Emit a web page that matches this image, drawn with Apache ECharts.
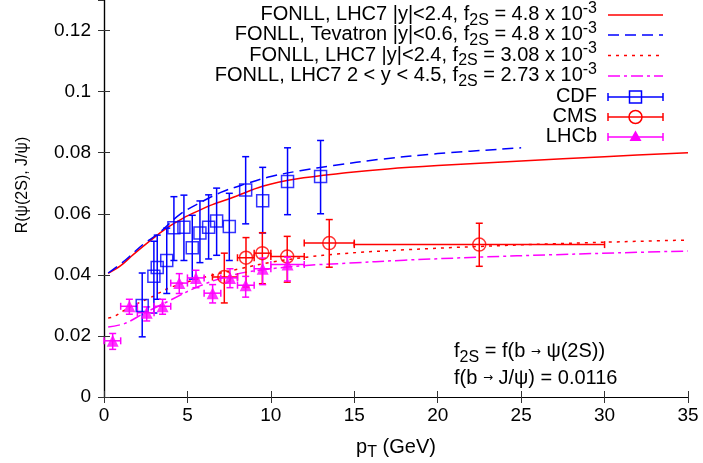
<!DOCTYPE html>
<html><head><meta charset="utf-8">
<script src="https://cdn.jsdelivr.net/npm/echarts@6/dist/echarts.min.js"></script>
<style>html,body{margin:0;padding:0;background:#fff}#c{width:703px;height:463px}</style>
</head><body><div id="c"></div>
<script>
// ---------- data ----------
const xTicks = [0, 5, 10, 15, 20, 25, 30, 35];
const yTicks = [0, 0.02, 0.04, 0.06, 0.08, 0.1, 0.12];

// FONLL curves
const lhcSolidX = [0.25, 1.0, 1.75, 2.75, 3.75, 4.75, 5.75, 6.5, 7.75, 9.5, 11.5, 14.5, 17, 20, 25, 30, 35];
const lhcSolidY = [0.0405, 0.0430, 0.0466, 0.0511, 0.0553, 0.0586, 0.0612, 0.0630, 0.0654, 0.0690, 0.0714, 0.0734, 0.0747, 0.0758, 0.0773, 0.0787, 0.0800];
const tevX = [0.25, 1.25, 2.35, 3.25, 4.55, 5.75, 7.0, 8.5, 10.0, 11.75, 13.75, 16.5, 20, 25];
const tevY = [0.0406, 0.0447, 0.0500, 0.0535, 0.0598, 0.0636, 0.0670, 0.0698, 0.0722, 0.0741, 0.0758, 0.0778, 0.0797, 0.0816];
const lhcDotX = [0.25, 0.56, 1.5, 2.76, 4.05, 6.35, 8.15, 10.0, 12.14, 14.14, 18, 22.5, 27, 32.1, 35];
const lhcDotY = [0.0259, 0.0262, 0.0293, 0.0325, 0.0360, 0.0397, 0.0420, 0.0441, 0.0458, 0.0469, 0.0482, 0.0493, 0.0502, 0.0510, 0.0514];
const lhcbCurveX = [0.25, 1.26, 2.36, 3.76, 5.75, 7.75, 10.0, 12.74, 14.54, 18, 22.53, 27, 32.1, 35];
const lhcbCurveY = [0.0229, 0.0241, 0.0273, 0.0311, 0.0364, 0.0400, 0.0420, 0.0433, 0.0438, 0.0448, 0.0458, 0.0466, 0.0474, 0.0478];

// CDF
const cdfX  = [2.29, 2.99, 3.19, 3.76, 4.19, 4.79, 5.29, 5.75, 6.27, 6.75, 7.51, 8.49, 9.51, 11.0, 12.98];
const cdfY  = [0.0300, 0.0395, 0.0424, 0.0447, 0.0554, 0.0556, 0.0489, 0.0537, 0.0556, 0.0576, 0.0558, 0.0678, 0.0643, 0.0706, 0.0722];
const cdfLo = [0.0197, 0.0275, 0.0320, 0.0339, 0.0447, 0.0447, 0.0386, 0.0440, 0.0452, 0.0464, 0.0447, 0.0567, 0.0537, 0.0597, 0.0600];
const cdfHi = [0.0406, 0.0510, 0.0530, 0.0553, 0.0656, 0.0661, 0.0595, 0.0642, 0.0662, 0.0684, 0.0667, 0.0787, 0.0752, 0.0816, 0.0840];

// CMS
const cmsX   = [7.21, 8.51, 9.49, 10.98, 13.5, 22.49];
const cmsY   = [0.0393, 0.0456, 0.0471, 0.0460, 0.0504, 0.0499];
const cmsLo  = [0.0308, 0.0360, 0.0371, 0.0376, 0.0425, 0.0428];
const cmsHi  = [0.0471, 0.0522, 0.0538, 0.0526, 0.0581, 0.0569];
const cmsXlo = [6.5, 8, 9, 10, 12, 15];
const cmsXhi = [8, 9, 10, 12, 15, 30];

// LHCb
const lhcbX   = [0.52, 1.52, 2.56, 3.51, 4.51, 5.51, 6.51, 7.55, 8.49, 9.51, 11.0];
const lhcbY   = [0.0184, 0.0297, 0.0276, 0.0297, 0.0373, 0.0390, 0.0340, 0.0390, 0.0366, 0.0420, 0.0434];
const lhcbLo  = [0.0156, 0.0271, 0.0249, 0.0271, 0.0339, 0.0358, 0.0308, 0.0358, 0.0327, 0.0368, 0.0380];
const lhcbHi  = [0.0208, 0.0320, 0.0295, 0.0320, 0.0404, 0.0415, 0.0368, 0.0420, 0.0395, 0.0455, 0.0458];
const lhcbXlo = [0, 1, 2, 3, 4, 5, 6, 7, 8, 9, 10];
const lhcbXhi = [1, 2, 3, 4, 5, 6, 7, 8, 9, 10, 12];

const legendLabels = [
  '{n|FONLL, LHC7 |y|<2.4, f}{sub|2S}{n| = 4.8 x 10}{sup|-3}',
  '{n|FONLL, Tevatron |y|<0.6, f}{sub|2S}{n| = 4.8 x 10}{sup|-3}',
  '{n|FONLL, LHC7 |y|<2.4, f}{sub|2S}{n| = 3.08 x 10}{sup|-3}',
  '{n|FONLL, LHC7 2 < y < 4.5, f}{sub|2S}{n| = 2.73 x 10}{sup|-3}',
  'CDF', 'CMS', 'LHCb'
];

// ---------- styling ----------
const FONT = 'Liberation Sans, Arial, Helvetica, sans-serif';
const RED = '#ff0000', BLUE = '#0000ff', MAG = '#ff00ff';
const rich = {
  n:   {fontFamily: FONT, fontSize: 20, lineHeight: 28, fill: '#000', color: '#000'},
  sub: {fontFamily: FONT, fontSize: 16, lineHeight: 14, verticalAlign: 'bottom', fill: '#000', color: '#000'},
  sup: {fontFamily: FONT, fontSize: 16, lineHeight: 14, verticalAlign: 'top', fill: '#000', color: '#000'},
  ar:  {fontFamily: 'DejaVu Sans', fontSize: 12, lineHeight: 28, fill: '#000', color: '#000'}
};

function zip(a, b) { return a.map((v, i) => [v, b[i]]); }

function vBars(color, cap) {
  return function (params, api) {
    const x = api.value(0), lo = api.value(1), hi = api.value(2);
    const p1 = api.coord([x, lo]), p2 = api.coord([x, hi]);
    const st = {stroke: color, lineWidth: 1.5, fill: null};
    return {type: 'group', children: [
      {type: 'line', shape: {x1: p1[0], y1: p1[1], x2: p2[0], y2: p2[1]}, style: st},
      {type: 'line', shape: {x1: p1[0] - cap, y1: p1[1], x2: p1[0] + cap, y2: p1[1]}, style: st},
      {type: 'line', shape: {x1: p2[0] - cap, y1: p2[1], x2: p2[0] + cap, y2: p2[1]}, style: st}
    ]};
  };
}
function hBars(color, cap) {
  return function (params, api) {
    const xl = api.value(0), xh = api.value(1), y = api.value(2);
    const p1 = api.coord([xl, y]), p2 = api.coord([xh, y]);
    const st = {stroke: color, lineWidth: 1.5, fill: null};
    return {type: 'group', children: [
      {type: 'line', shape: {x1: p1[0], y1: p1[1], x2: p2[0], y2: p2[1]}, style: st},
      {type: 'line', shape: {x1: p1[0], y1: p1[1] - cap, x2: p1[0], y2: p1[1] + cap}, style: st},
      {type: 'line', shape: {x1: p2[0], y1: p2[1] - cap, x2: p2[0], y2: p2[1] + cap}, style: st}
    ]};
  };
}

function curve(name, xs, ys, color, dash) {
  return {type: 'line', name, data: zip(xs, ys), smooth: 0.35, showSymbol: false, silent: true,
    lineStyle: {color, width: 1.5, type: dash}, z: 2, clip: true};
}

// ---------- legend graphics ----------
const LX1 = 608, LX2 = 663, LTX = 597;
const rowY = [14.5, 34.5, 55, 75.5, 96.5, 116.5, 136.5];
const graphics = [];
legendLabels.forEach((t, i) => {
  graphics.push({type: 'text', x: LTX, y: rowY[i], z: 100,
    style: {text: t, rich, align: 'right', verticalAlign: 'middle', fill: '#000',
      fontFamily: FONT, fontSize: 20}});
});
const legendLines = [[RED, null], [BLUE, [11, 6]], [RED, [3, 5]], [MAG, [12, 4, 3, 4]]];
legendLines.forEach((l, i) => {
  graphics.push({type: 'line', z: 100, shape: {x1: LX1, y1: rowY[i] + 0.5, x2: LX2, y2: rowY[i] + 0.5},
    style: {stroke: l[0], lineWidth: 1.5, lineDash: l[1]}});
});
[[BLUE, 4], [RED, 5], [MAG, 6]].forEach(([c, i]) => {
  const y = rowY[i] + 0.5, xm = (LX1 + LX2) / 2;
  const st = {stroke: c, lineWidth: 1.5, fill: null};
  graphics.push({type: 'line', z: 100, shape: {x1: LX1, y1: y, x2: LX2, y2: y}, style: st});
  graphics.push({type: 'line', z: 100, shape: {x1: LX1, y1: y - 4, x2: LX1, y2: y + 4}, style: st});
  graphics.push({type: 'line', z: 100, shape: {x1: LX2, y1: y - 4, x2: LX2, y2: y + 4}, style: st});
  if (i === 4) graphics.push({type: 'rect', z: 100, shape: {x: xm - 6, y: y - 6, width: 12, height: 12}, style: {stroke: c, lineWidth: 1.5, fill: 'rgba(0,0,0,0)'}});
  if (i === 5) graphics.push({type: 'circle', z: 100, shape: {cx: xm, cy: y, r: 6.5}, style: {stroke: c, lineWidth: 1.5, fill: 'rgba(0,0,0,0)'}});
  if (i === 6) graphics.push({type: 'polygon', z: 100, shape: {points: [[xm, y - 6.5], [xm - 6, y + 4], [xm + 6, y + 4]]}, style: {fill: c}});
});
// inset note
graphics.push({type: 'text', x: 454, y: 351.5, z: 100,
  style: {text: '{n|f}{sub|2S}{n| = f(b }{ar|→}{n| ψ(2S))}', rich, align: 'left', verticalAlign: 'middle', fill: '#000', fontFamily: FONT, fontSize: 20}});
graphics.push({type: 'text', x: 454, y: 378, z: 100,
  style: {text: '{n|f(b }{ar|→}{n| J/ψ) = 0.0116}', rich, align: 'left', verticalAlign: 'middle', fill: '#000', fontFamily: FONT, fontSize: 20}});
// axis titles
graphics.push({type: 'text', x: 396, y: 447, z: 100,
  style: {text: '{n|p}{sub|T}{n| (GeV)}', rich, align: 'center', verticalAlign: 'middle', fill: '#000', fontFamily: FONT, fontSize: 20}});
graphics.push({type: 'text', x: 23, y: 185, rotation: Math.PI / 2, z: 100,
  style: {text: 'R(ψ(2S), J/ψ)', align: 'center', verticalAlign: 'middle', fill: '#000', fontFamily: FONT, fontSize: 16}});

// ---------- axes ----------
const axisCommon = {
  axisLine: {show: true, lineStyle: {color: '#000', width: 1.2}},
  axisTick: {show: true, inside: true, length: 6, lineStyle: {color: '#333', width: 1}},
  splitLine: {show: false}
};
const option = {
  animation: false,
  backgroundColor: '#fff',
  grid: {left: 104, right: 15, top: -1, bottom: 66, containLabel: false},
  xAxis: [
    Object.assign({type: 'value', min: xTicks[0], max: xTicks[xTicks.length - 1], interval: 5, position: 'bottom',
      axisLabel: {color: '#000', fontFamily: FONT, fontSize: 19, margin: 9}}, axisCommon),
    Object.assign({type: 'value', min: xTicks[0], max: xTicks[xTicks.length - 1], interval: 5, position: 'top',
      axisLabel: {show: false}}, axisCommon)
  ],
  yAxis: [
    Object.assign({type: 'value', min: 0, max: 0.13, interval: 0.02, position: 'left',
      axisLabel: {color: '#000', fontFamily: FONT, fontSize: 19, margin: 13, showMaxLabel: false,
        formatter: v => (yTicks.indexOf(+v.toFixed(2)) >= 0 ? String(+v.toFixed(2)) : '')}}, axisCommon),
    Object.assign({type: 'value', min: 0, max: 0.13, interval: 0.02, position: 'right',
      axisLabel: {show: false}}, axisCommon)
  ],
  graphic: graphics,
  series: [
    curve('lhc48', lhcSolidX, lhcSolidY, RED, 'solid'),
    curve('tev48', tevX, tevY, BLUE, [11, 6]),
    curve('lhc308', lhcDotX, lhcDotY, RED, [3, 5]),
    curve('lhcb273', lhcbCurveX, lhcbCurveY, MAG, [12, 4, 3, 4]),
    {type: 'custom', name: 'cdfErr', renderItem: vBars(BLUE, 3.5), silent: true, z: 3,
      data: cdfX.map((x, i) => [x, cdfLo[i], cdfHi[i]]), encode: {x: 0, y: [1, 2]}},
    {type: 'scatter', name: 'CDF', data: zip(cdfX, cdfY), symbol: 'rect', symbolSize: 12, silent: true, z: 4,
      itemStyle: {color: 'rgba(0,0,0,0)', borderColor: BLUE, borderWidth: 1.5}},
    {type: 'custom', name: 'cmsErrY', renderItem: vBars(RED, 3.5), silent: true, z: 3,
      data: cmsX.map((x, i) => [x, cmsLo[i], cmsHi[i]]), encode: {x: 0, y: [1, 2]}},
    {type: 'custom', name: 'cmsErrX', renderItem: hBars(RED, 3.5), silent: true, z: 3,
      data: cmsX.map((x, i) => [cmsXlo[i], cmsXhi[i], cmsY[i]]), encode: {x: [0, 1], y: 2}},
    {type: 'scatter', name: 'CMS', data: zip(cmsX, cmsY), symbol: 'circle', symbolSize: 13, silent: true, z: 4,
      itemStyle: {color: 'rgba(0,0,0,0)', borderColor: RED, borderWidth: 1.5}},
    {type: 'custom', name: 'lhcbErrY', renderItem: vBars(MAG, 3.5), silent: true, z: 3,
      data: lhcbX.map((x, i) => [x, lhcbLo[i], lhcbHi[i]]), encode: {x: 0, y: [1, 2]}},
    {type: 'custom', name: 'lhcbErrX', renderItem: hBars(MAG, 3.5), silent: true, z: 3,
      data: lhcbX.map((x, i) => [lhcbXlo[i], lhcbXhi[i], lhcbY[i]]), encode: {x: [0, 1], y: 2}},
    {type: 'scatter', name: 'LHCb', data: zip(lhcbX, lhcbY), symbol: 'triangle', symbolSize: 12, silent: true, z: 4,
      itemStyle: {color: MAG}}
  ]
};
const chart = echarts.init(document.getElementById('c'), null, {renderer: 'canvas'});
chart.setOption(option);
</script>
</body></html>
